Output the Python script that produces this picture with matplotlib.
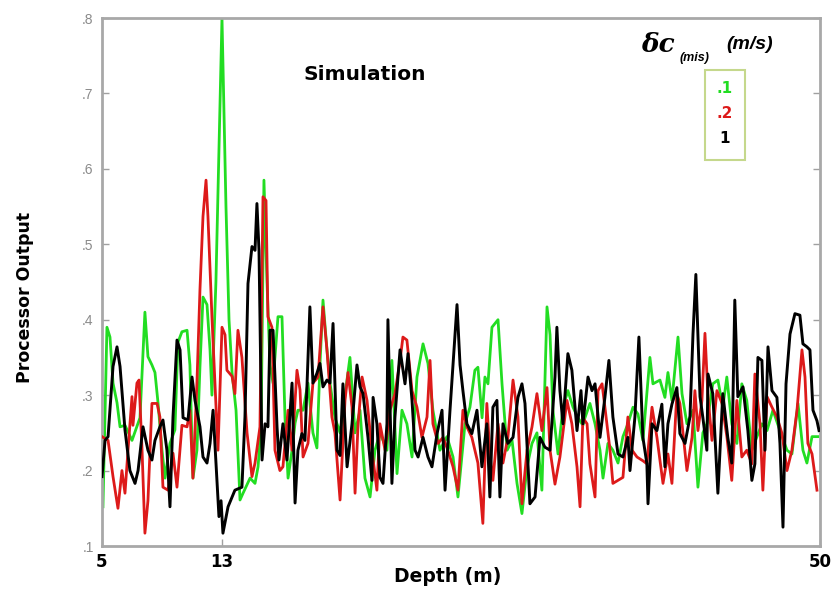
import matplotlib
matplotlib.use("Agg")
import matplotlib.pyplot as plt
from matplotlib.patches import Rectangle

plt.rcParams['font.family'] = ['Liberation Sans', 'DejaVu Sans']

# ---------------- data (depth in m, processor output) ----------------
green_x = [5.06, 5.31, 5.50, 5.69, 5.94, 6.13, 6.44, 6.88, 7.38, 7.69, 7.88, 8.13, 8.32, 8.51, 8.76,
           8.95, 9.26, 9.57, 9.76, 10.01, 10.33, 10.51, 10.70, 10.95, 11.14, 11.33, 11.58, 11.77, 11.89,
           12.14, 12.52, 12.77, 12.96, 13.15, 13.40, 13.65, 13.84, 14.28, 14.59, 14.78, 14.97, 15.15,
           15.34, 15.53, 15.72, 16.03, 16.28, 16.47, 16.66, 16.91, 17.10, 17.28, 17.60, 17.91, 18.22,
           18.47, 18.66, 18.85, 19.10, 19.29, 19.60, 19.92, 20.23, 20.54, 20.86, 21.17, 21.48, 21.80,
           22.11, 22.42, 22.86, 23.17, 23.49, 23.80, 24.11, 24.43, 24.74, 25.12, 25.43, 25.74, 26.18,
           26.62, 27.00, 27.31, 27.75, 28.06, 28.37, 28.56, 28.82, 29.00, 29.19, 29.44, 29.82, 30.07,
           30.39, 30.70, 31.01, 31.32, 31.64, 31.95, 32.26, 32.57, 32.89, 33.08, 33.26, 33.58, 33.89,
           34.20, 34.52, 34.83, 35.14, 35.27, 35.58, 35.90, 36.21, 36.40, 36.71, 37.02, 37.34, 37.65,
           37.96, 38.28, 38.59, 38.90, 39.34, 39.53, 39.97, 40.28, 40.47, 40.72, 41.10, 41.35, 41.66,
           42.04, 42.35, 42.66, 42.91, 43.28, 43.60, 43.91, 44.16, 44.47, 44.79, 45.10, 45.41, 45.73,
           46.05, 46.36, 46.68, 47.05, 47.49, 47.93, 48.24, 48.62, 48.93, 49.18, 49.50, 49.87]
green_y = [.152, .39, .377, .316, .29, .258, .26, .24, .27, .41, .351, .34, .33, .29, .227,
           .19, .236, .254, .37, .384, .386, .34, .19, .227, .338, .43, .42, .36, .30,
           .45, .80, .55, .40, .33, .28, .161, .17, .19, .183, .205, .258, .585,
           .45, .34, .316, .404, .404, .27, .19, .227, .263, .28, .28, .316, .25,
           .23, .34, .426, .36, .316, .27, .25, .30, .35, .25, .28, .19, .165,
           .227, .25, .227, .346, .196, .28, .262, .218, .324, .368, .342, .28, .227,
           .245, .218, .165, .262, .284, .333, .337, .27, .324, .315, .39, .40, .315,
           .227, .24, .183, .143, .205, .236, .25, .174, .417, .38, .28, .222, .284,
           .306, .284, .27, .26, .27, .289, .262, .227, .19, .236, .227, .21, .245,
           .262, .284, .275, .24, .35, .315, .32, .297, .33, .293, .377, .302, .262,
           .28, .178, .25, .262, .315, .32, .284, .324, .262, .236, .315, .293, .227,
           .245, .262, .253, .28, .253, .227, .222, .289, .227, .21, .245, .245]

red_x = [5.00, 5.38, 5.69, 6.00, 6.25, 6.44, 6.63, 6.88, 6.94, 7.19, 7.32, 7.51, 7.69, 7.88, 8.13,
         8.45, 8.63, 8.82, 9.14, 9.45, 9.70, 10.01, 10.33, 10.51, 10.70, 10.95, 11.14, 11.33, 11.52,
         11.64, 11.89, 12.08, 12.27, 12.52, 12.71, 12.83, 13.15, 13.33, 13.52, 13.77, 14.09, 14.40,
         14.59, 14.90, 15.09, 15.28, 15.40, 15.65, 15.84, 16.15, 16.34, 16.66, 16.91, 17.22, 17.41,
         17.60, 17.91, 18.22, 18.54, 18.85, 19.10, 19.41, 19.60, 19.92, 20.23, 20.42, 20.67, 20.86,
         21.05, 21.30, 21.61, 21.92, 22.23, 22.42, 22.74, 23.05, 23.36, 23.68, 23.86, 24.11, 24.43,
         24.74, 25.05, 25.37, 25.56, 25.74, 26.06, 26.37, 26.68, 27.00, 27.31, 27.62, 27.87, 28.18,
         28.56, 28.87, 29.12, 29.31, 29.50, 29.82, 30.13, 30.44, 30.76, 31.07, 31.32, 31.64, 31.95,
         32.26, 32.57, 32.89, 33.08, 33.39, 33.70, 34.14, 34.45, 34.77, 34.96, 35.14, 35.40, 35.58,
         35.90, 36.09, 36.34, 36.52, 36.84, 37.02, 37.34, 37.65, 37.96, 38.22, 38.53, 38.90, 39.15,
         39.47, 39.78, 40.16, 40.47, 40.72, 41.03, 41.22, 41.66, 41.98, 42.16, 42.35, 42.60, 42.79,
         42.98, 43.23, 43.54, 43.86, 44.17, 44.47, 44.79, 45.10, 45.41, 45.73, 45.92, 46.24, 46.42,
         46.68, 46.99, 47.30, 47.62, 47.93, 48.24, 48.56, 48.87, 49.06, 49.24, 49.50, 49.81]
red_y = [.245, .24, .192, .15, .20, .17, .227, .298, .26, .316, .32, .227, .117, .16, .289,
         .289, .271, .178, .174, .223, .178, .26, .258, .28, .19, .316, .44, .537, .585,
         .537, .404, .316, .227, .39, .38, .333, .325, .302, .386, .35, .25, .192,
         .21, .258, .563, .558, .404, .39, .227, .20, .205, .28, .227, .333, .307,
         .218, .236, .316, .324, .417, .36, .271, .25, .161, .293, .33, .284, .17,
         .262, .324, .293, .227, .174, .262, .227, .28, .302, .346, .377, .373, .306,
         .284, .244, .271, .346, .262, .236, .244, .227, .205, .174, .28, .258, .244,
         .21, .13, .289, .222, .187, .262, .21, .244, .32, .271, .156, .227, .258,
         .302, .253, .31, .227, .182, .218, .293, .262, .205, .152, .27, .262, .209,
         .165, .306, .315, .284, .227, .183, .187, .191, .271, .227, .218, .213, .209,
         .284, .244, .183, .222, .183, .302, .289, .20, .244, .306, .253, .293, .382,
         .298, .24, .306, .289, .244, .187, .293, .218, .227, .209, .328, .262, .174,
         .298, .284, .271, .249, .20, .227, .28, .36, .324, .236, .222, .174]

black_x = [5.00, 5.19, 5.38, 5.69, 5.94, 6.13, 6.44, 6.75, 7.07, 7.26, 7.57, 7.88, 8.13, 8.32, 8.63,
           8.82, 9.07, 9.26, 9.45, 9.70, 9.89, 10.08, 10.39, 10.64, 10.83, 11.14, 11.33, 11.58, 11.77,
           11.96, 12.21, 12.33, 12.46, 12.58, 12.90, 13.33, 13.77, 13.96, 14.15, 14.40, 14.59, 14.71,
           14.84, 15.03, 15.22, 15.40, 15.53, 15.72, 15.97, 16.09, 16.34, 16.59, 16.91, 17.10, 17.28,
           17.53, 17.72, 18.03, 18.22, 18.47, 18.66, 18.85, 19.10, 19.29, 19.48, 19.73, 19.92, 20.10,
           20.36, 20.67, 20.98, 21.17, 21.36, 21.67, 21.92, 21.99, 22.23, 22.42, 22.61, 22.86, 22.92,
           23.17, 23.36, 23.68, 23.99, 24.18, 24.43, 24.62, 24.81, 25.12, 25.43, 25.68, 26.00, 26.31,
           26.50, 26.81, 27.25, 27.44, 27.62, 27.87, 28.18, 28.50, 28.81, 29.12, 29.31, 29.50, 29.75,
           29.94, 30.13, 30.44, 30.76, 31.07, 31.32, 31.51, 31.82, 32.14, 32.45, 32.76, 33.08, 33.39,
           33.51, 33.70, 33.89, 34.20, 34.45, 34.77, 35.02, 35.14, 35.46, 35.71, 35.90, 36.21, 36.52,
           36.77, 37.02, 37.34, 37.65, 37.96, 38.09, 38.40, 38.65, 38.90, 39.15, 39.22, 39.47, 39.78,
           40.09, 40.28, 40.47, 40.72, 41.03, 41.22, 41.54, 41.85, 42.04, 42.22, 42.48, 42.66, 42.91,
           42.98, 43.28, 43.60, 43.91, 44.22, 44.47, 44.66, 44.85, 45.17, 45.48, 45.73, 45.92, 46.11,
           46.36, 46.55, 46.74, 46.99, 47.30, 47.49, 47.68, 47.87, 48.12, 48.43, 48.74, 48.93, 49.18,
           49.37, 49.56, 49.81, 49.94]
black_y = [.192, .24, .245, .338, .364, .338, .254, .20, .183, .20, .258, .227, .214, .24, .258,
           .267, .227, .152, .271, .373, .36, .27, .267, .324, .293, .258, .218, .21, .236,
           .28, .183, .139, .16, .117, .152, .174, .178, .271, .448, .497, .492, .554,
           .492, .214, .262, .258, .386, .386, .258, .214, .262, .214, .316, .157, .227,
           .249, .24, .417, .316, .329, .342, .311, .32, .316, .395, .227, .22, .315,
           .205, .262, .34, .311, .302, .244, .187, .297, .262, .191, .183, .262, .40,
           .183, .271, .36, .315, .355, .293, .227, .218, .244, .218, .205, .249, .28,
           .174, .28, .42, .34, .306, .262, .249, .28, .205, .262, .165, .284, .293,
           .165, .262, .236, .244, .297, .315, .289, .156, .165, .244, .231, .227, .324,
           .39, .306, .262, .355, .333, .253, .306, .262, .324, .306, .315, .244, .297,
           .346, .271, .222, .218, .244, .20, .271, .377, .244, .209, .156, .262, .253,
           .288, .205, .262, .288, .31, .249, .236, .271, .381, .46, .298, .27, .227,
           .328, .302, .17, .302, .244, .21, .426, .298, .311, .253, .187, .209, .35,
           .346, .227, .364, .306, .297, .236, .125, .315, .381, .408, .406, .368, .364,
           .36, .28, .266, .253]

x_ticks = [5, 12.52, 50]
x_tick_labels = ["5", "13", "50"]
y_ticks = [.1, .2, .3, .4, .5, .6, .7, .8]
y_tick_labels = [".1", ".2", ".3", ".4", ".5", ".6", ".7", ".8"]
legend_labels = [".1", ".2", "1"]
series_colors = ["#22dd22", "#dd1a1a", "#000000"]

# ---------------- figure ----------------
fig = plt.figure(figsize=(8.31, 5.90), dpi=100)
ax = fig.add_axes([102/831, 1 - 546/590, 718/831, 528/590])

ax.plot(green_x, green_y, color=series_colors[0], lw=2.0, zorder=2)
ax.plot(red_x, red_y, color=series_colors[1], lw=2.0, zorder=3)
ax.plot(black_x, black_y, color=series_colors[2], lw=2.1, zorder=4)

ax.set_xlim(5, 50)
ax.set_ylim(0.1, 0.8)
ax.set_xticks(x_ticks)
ax.set_xticklabels(x_tick_labels, fontsize=12, fontweight='bold', color='black',
                   family='DejaVu Sans')
ax.set_yticks(y_ticks)
ax.set_yticklabels(y_tick_labels, fontsize=10, color='#8a8a8a')
ax.tick_params(axis='both', direction='in', length=5, color='#a0a0a0', width=1,
               top=False, right=True)
ax.tick_params(axis='x', pad=5)
ax.tick_params(axis='y', pad=6)
for sp in ax.spines.values():
    sp.set_color('#a8a8a8')
    sp.set_linewidth(2)

fig.text(448/831, 1 - 577/590, "Depth (m)", fontsize=13.5, fontweight='bold',
         ha='center', va='center', family='DejaVu Sans')
fig.text(25/831, 1 - 297/590, "Processor Output", rotation=90, fontsize=12.5,
         fontweight='bold', ha='center', va='center', family='DejaVu Sans')

ax.text(0.366, 0.893, "Simulation", transform=ax.transAxes, fontsize=14.5,
        fontweight='bold', ha='center', va='center', family='DejaVu Sans')

# legend-like annotation
ax.text(0.774, 0.949, "δc", transform=ax.transAxes, fontsize=19, fontstyle='italic',
        fontweight='bold', ha='center', va='center', family='DejaVu Serif')
ax.text(0.825, 0.925, "(mis)", transform=ax.transAxes, fontsize=9, fontstyle='italic',
        fontweight='bold', ha='center', va='center')
ax.text(0.9025, 0.949, "(m/s)", transform=ax.transAxes, fontsize=14, fontstyle='italic',
        fontweight='bold', ha='center', va='center')
box = Rectangle((0.84, 0.732), 0.055, 0.17, transform=ax.transAxes, fill=False,
                edgecolor='#c5d88c', linewidth=1.5, zorder=5)
ax.add_patch(box)
for i, (lab, col) in enumerate(zip(legend_labels, series_colors)):
    ax.text(0.8675, 0.866 - i * 0.047, lab, transform=ax.transAxes, fontsize=11,
            fontweight='bold', color=col, ha='center', va='center', zorder=6,
            family='DejaVu Sans')

fig.savefig("out.png", dpi=100, facecolor='white')
